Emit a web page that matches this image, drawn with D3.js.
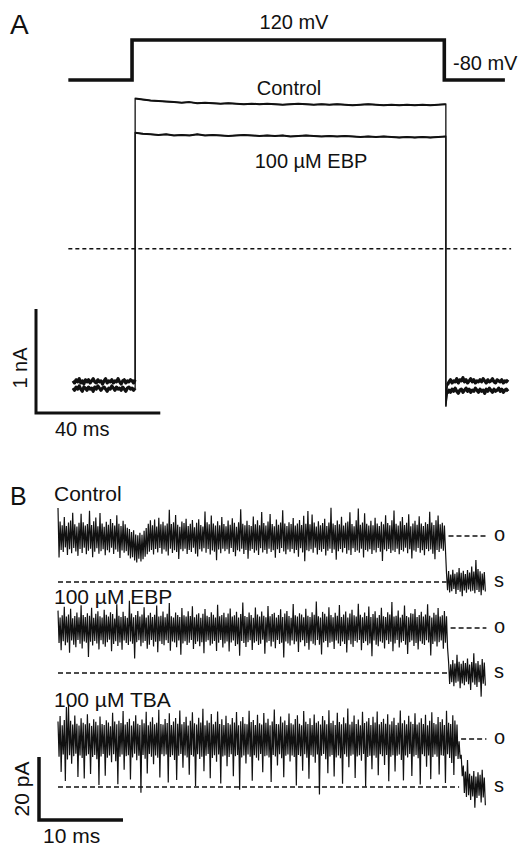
<!DOCTYPE html>
<html>
<head>
<meta charset="utf-8">
<script src="https://cdn.jsdelivr.net/npm/d3@7"></script>
<style>
  html, body { margin: 0; padding: 0; background: #fff; }
  svg { display: block; }
</style>
</head>
<body>
<svg id="fig" width="526" height="846"></svg>
<script>
// ---------------- Panel A: macroscopic currents ----------------
// Voltage protocol (ms, mV)
const stepTimes = [-21.5, -1, -1, 99.5, 99.5, 119];
const stepVolts = [-80, -80, 120, 120, -80, -80];
const holdingLabel = "-80 mV";
const stepLabel = "120 mV";

// Current (nA) at the holding potential before the step, -20..0 ms
const controlPre = [0.04, 0.02, 0.05, 0.03, 0.06, 0.02, 0.04, 0.01, 0.05, 0.03, 0.05, 0.02, 0.04, 0.06, 0.03, 0.02, 0.05, 0.03, 0.04, 0.01, 0.04, 0.06, 0.02, 0.04, 0.03, 0.05, 0.02, 0.04, 0.03, 0.06, 0.03, 0.01, 0.04, 0.05, 0.02, 0.04, 0.03, 0.05, 0.04, 0.02, 0.05];
const ebpPre = [-0.03, -0.05, -0.02, -0.04, -0.01, -0.04, -0.06, -0.02, -0.03, -0.05, -0.02, -0.04, -0.03, -0.06, -0.02, -0.04, -0.01, -0.03, -0.05, -0.03, -0.02, -0.04, -0.06, -0.03, -0.04, -0.01, -0.03, -0.05, -0.02, -0.04, -0.03, -0.05, -0.02, -0.04, -0.06, -0.03, -0.02, -0.04, -0.03, -0.05, -0.03];

// Current (nA) during the 120 mV step, 0..100 ms
const controlStep = [2.755, 2.745, 2.735, 2.73, 2.725, 2.72, 2.715, 2.72, 2.71, 2.715, 2.71, 2.705, 2.71, 2.705, 2.70, 2.705, 2.70, 2.705, 2.70, 2.695, 2.70, 2.705, 2.70, 2.695, 2.70, 2.695, 2.70, 2.695, 2.69, 2.695, 2.70, 2.695, 2.69, 2.695, 2.69, 2.695, 2.69, 2.695, 2.69, 2.695, 2.70];
const ebpStep = [2.425, 2.415, 2.41, 2.405, 2.41, 2.40, 2.405, 2.40, 2.41, 2.40, 2.405, 2.40, 2.395, 2.40, 2.405, 2.40, 2.395, 2.40, 2.395, 2.40, 2.39, 2.395, 2.40, 2.395, 2.39, 2.395, 2.39, 2.395, 2.39, 2.385, 2.39, 2.385, 2.39, 2.385, 2.38, 2.385, 2.38, 2.385, 2.38, 2.385, 2.39];

// Current (nA) after returning to -80 mV, 100..120 ms
const controlPost = [-0.21, 0.0, 0.03, 0.05, 0.02, 0.04, 0.03, 0.06, 0.02, 0.05, 0.04, 0.07, 0.03, 0.05, 0.02, 0.04, 0.06, 0.03, 0.05, 0.02, 0.04, 0.03, 0.05, 0.03, 0.06, 0.04, 0.02, 0.05, 0.03, 0.04, 0.06, 0.03, 0.02, 0.05, 0.04, 0.03, 0.05, 0.02, 0.04, 0.03, 0.05];
const ebpPost = [-0.20, -0.08, -0.05, -0.07, -0.04, -0.06, -0.03, -0.06, -0.08, -0.05, -0.04, -0.07, -0.05, -0.03, -0.06, -0.04, -0.07, -0.05, -0.06, -0.03, -0.05, -0.07, -0.04, -0.06, -0.05, -0.08, -0.04, -0.06, -0.03, -0.05, -0.07, -0.04, -0.06, -0.05, -0.03, -0.06, -0.04, -0.07, -0.05, -0.04, -0.06];

const referenceLevelA = 1.31;   // nA, dashed line
const traceLabelsA = ["Control", "100 \u00B5M EBP"];
const scaleBarA = { current: 1, time: 40, currentLabel: "1 nA", timeLabel: "40 ms" };

// ---------------- Panel B: single-channel currents at 120 mV ----------------
// Each record is stored as its excursion envelope (highest / lowest current, pA)
// within consecutive 0.25 ms bins, relative to the shut level.
const binWidthB = 0.25;  // ms
const traceLabelsB = ["Control", "100 \u00B5M EBP", "100 \u00B5M TBA"];
const openLevels = [14.6, 14.3, 15.2];   // pA, "o"
const levelLabels = ["o", "s"];

const controlOpenHigh = [
  23.5, 19.2, 18.0, 20.6, 17.8, 18.9, 19.5, 22.0, 18.3, 17.6,
  18.8, 21.7, 19.0, 17.9, 18.4, 22.6, 18.1, 19.3, 20.5, 17.7,
  21.9, 18.6, 17.5, 19.1, 18.2, 20.0, 18.7, 17.9, 21.2, 18.5,
  17.8, 19.4, 18.3, 17.2, 16.8, 15.9, 16.4, 15.1, 14.8, 15.6,
  15.0, 16.3, 17.1, 18.5, 19.6, 18.0, 19.8, 17.6, 20.4, 18.3,
  19.1, 17.9, 18.6, 22.9, 18.4, 19.0, 21.3, 18.2, 17.5, 19.2,
  18.7, 20.1, 17.8, 18.5, 19.7, 17.4, 18.8, 19.9, 18.1, 17.6,
  22.4, 19.0, 18.3, 21.1, 18.6, 17.9, 19.3, 18.0, 20.6, 18.4,
  17.7, 19.5, 18.2, 20.2, 18.8, 17.5, 19.0, 23.1, 18.5, 18.0,
  19.4, 18.1, 17.8, 20.8, 18.3, 19.6, 18.0, 22.2, 18.7, 17.9,
  19.2, 21.6, 18.4, 17.7, 19.8, 18.2, 18.9, 22.8, 18.6, 17.8,
  19.0, 18.4, 20.3, 17.9, 18.6, 19.7, 18.1, 21.0, 18.5, 22.5,
  18.3, 21.4, 18.9, 17.6, 19.3, 18.0, 18.7, 20.1, 17.8, 18.9,
  23.6, 18.6, 18.1, 19.5, 18.3, 20.7, 17.9, 18.8, 19.2, 22.1,
  18.4, 17.7, 19.6, 23.3, 18.2, 18.9, 21.8, 18.5, 17.9, 19.4,
  18.0, 20.4, 18.6, 17.8, 19.1, 18.3, 21.2, 18.7, 18.0, 19.6,
  22.7, 18.5, 17.9, 19.3, 20.6, 18.1, 18.8, 21.5, 17.7, 18.6,
  19.4, 18.2, 20.9, 18.6, 17.8, 19.0, 18.4, 22.3, 18.9, 18.1,
  19.6, 21.1, 18.3, 18.8, 17.9
];
const controlOpenLow = [
  7.8, 10.2, 9.5, 11.0, 8.6, 10.4, 9.1, 10.8, 9.7, 8.3,
  10.5, 9.2, 10.9, 8.8, 9.9, 10.6, 7.9, 9.6, 10.7, 9.0,
  9.8, 10.4, 8.5, 10.1, 9.4, 10.9, 8.9, 10.3, 9.6, 7.6,
  10.0, 9.3, 9.8, 8.4, 7.5, 7.9, 6.8, 6.2, 7.4, 6.5,
  7.2, 8.0, 8.8, 9.6, 10.2, 8.7, 10.5, 9.4, 10.8, 9.0,
  10.3, 9.7, 8.4, 10.6, 9.2, 10.1, 9.5, 7.3, 10.4, 9.8,
  10.6, 8.9, 10.2, 9.5, 10.9, 9.0, 8.1, 10.4, 9.7, 10.7,
  9.3, 10.5, 8.7, 10.0, 9.6, 6.9, 10.3, 9.1, 10.6, 9.8,
  10.4, 9.0, 10.8, 9.5, 8.2, 10.1, 9.7, 10.6, 8.9, 10.2,
  7.4, 9.9, 10.5, 9.3, 10.0, 8.6, 10.7, 9.4, 10.2, 9.0,
  10.6, 9.5, 10.1, 7.7, 10.4, 9.2, 10.8, 9.7, 8.8, 10.3,
  9.6, 10.5, 9.1, 10.2, 8.0, 10.7, 9.4, 6.6, 10.1, 9.8,
  10.4, 9.3, 10.9, 8.7, 10.2, 9.6, 10.5, 8.4, 9.9, 10.6,
  9.2, 10.3, 7.1, 9.8, 10.5, 9.4, 10.8, 9.0, 10.1, 8.6,
  10.7, 9.5, 10.0, 9.3, 10.6, 7.8, 10.2, 9.7, 10.4, 8.9,
  10.1, 9.4, 10.8, 9.6, 6.7, 10.3, 9.8, 10.5, 9.2, 10.0,
  9.5, 10.6, 8.8, 10.2, 9.7, 10.9, 9.1, 10.4, 7.5, 10.0,
  9.6, 10.8, 9.3, 10.1, 8.5, 10.5, 9.8, 10.3, 9.0, 7.2,
  10.2, 9.5, 10.6, 9.9, 10.3
];
const controlShutHigh = [2.8, 3.5, 2.4, 3.9, 2.6, 3.1, 4.4, 2.9, 3.6, 2.5, 3.8, 3.0, 4.9, 3.3, 7.0, 4.1, 3.4, 2.7, 3.2];
const controlShutLow = [-2.6, -3.3, -2.9, -2.2, -3.8, -2.5, -3.1, -4.5, -2.7, -3.4, -2.4, -3.0, -2.8, -3.6, -2.5, -3.2, -4.2, -2.6, -3.0];

const ebpOpenHigh = [
  19.8, 17.6, 18.3, 21.0, 17.9, 18.6, 20.4, 17.4, 18.1, 19.2,
  17.7, 21.5, 18.4, 17.8, 19.0, 18.2, 20.7, 17.5, 18.8, 19.6,
  18.0, 17.6, 20.1, 18.5, 17.9, 19.3, 18.7, 17.3, 21.8, 18.2,
  17.8, 19.4, 18.1, 17.5, 22.9, 18.9, 17.7, 18.4, 19.7, 17.9,
  18.6, 20.9, 17.6, 18.3, 19.1, 17.8, 18.5, 21.4, 17.9, 18.2,
  19.5, 17.7, 18.8, 22.2, 18.0, 17.6, 19.2, 18.4, 17.8, 20.6,
  18.3, 17.9, 19.6, 18.1, 21.2, 17.7, 18.6, 19.0, 17.5, 18.8,
  20.3, 18.2, 17.8, 19.3, 18.5, 17.6, 21.7, 18.0, 18.4, 19.1,
  17.7, 18.9, 20.5, 17.9, 18.3, 19.4, 17.6, 18.7, 22.4, 18.1,
  17.8, 19.2, 18.4, 17.5, 20.8, 18.6, 17.9, 19.5, 18.2, 17.7,
  21.3, 18.0, 18.7, 19.1, 17.6, 18.4, 20.2, 17.8, 18.9, 19.7,
  18.1, 17.5, 21.9, 18.3, 17.9, 19.0, 18.6, 17.7, 20.4, 18.2,
  17.8, 19.3, 18.5, 22.7, 18.0, 17.6, 19.4, 18.8, 17.9, 20.9,
  18.4, 17.7, 19.1, 18.2, 21.6, 17.8, 18.6, 19.5, 17.6, 18.9,
  20.1, 18.3, 17.9, 22.0, 18.5, 17.7, 19.2, 18.1, 21.1, 17.8,
  18.7, 19.6, 17.5, 18.4, 20.7, 18.0, 17.8, 19.3, 18.6, 22.5,
  17.9, 18.2, 19.8, 17.6, 18.5, 21.4, 18.1, 17.7, 19.0, 18.8,
  20.3, 17.8, 18.4, 19.4, 17.9, 18.6, 21.8, 18.2, 17.6, 19.1,
  18.5, 20.6, 17.9, 18.3, 19.7, 18.0
];
const ebpOpenLow = [
  9.5, 7.2, 10.1, 8.8, 9.7, 6.4, 10.3, 9.0, 8.2, 10.5,
  9.3, 7.8, 10.0, 9.6, 5.1, 9.9, 8.7, 10.2, 9.4, 7.5,
  10.4, 9.1, 8.3, 9.8, 10.6, 6.9, 9.2, 10.1, 8.6, 9.7,
  7.4, 10.3, 9.5, 8.9, 10.0, 9.3, 4.6, 9.8, 10.4, 8.5,
  9.6, 10.2, 7.7, 9.0, 10.5, 8.4, 9.9, 6.6, 10.1, 9.2,
  8.8, 10.4, 9.5, 7.1, 10.0, 9.7, 8.2, 10.3, 5.8, 9.4,
  10.1, 8.9, 9.6, 10.5, 7.6, 9.2, 10.0, 8.5, 9.8, 6.3,
  9.9, 10.4, 8.7, 9.3, 10.2, 7.0, 9.6, 10.5, 8.1, 9.4,
  10.0, 6.8, 9.7, 10.3, 8.6, 9.1, 5.5, 10.2, 9.5, 8.3,
  9.8, 10.4, 7.3, 9.6, 10.1, 8.9, 9.3, 10.6, 6.1, 9.7,
  10.2, 8.4, 9.9, 7.9, 10.5, 9.2, 9.6, 4.9, 10.0, 9.4,
  8.7, 10.3, 9.1, 10.0, 6.7, 9.8, 10.4, 8.5, 9.5, 7.4,
  10.1, 9.3, 8.8, 10.5, 9.0, 5.9, 9.7, 10.2, 8.2, 9.6,
  9.9, 7.6, 10.3, 9.4, 8.6, 10.0, 9.2, 6.5, 10.4, 9.1,
  8.3, 10.2, 9.7, 10.5, 7.2, 9.5, 10.1, 8.8, 9.4, 5.3,
  10.3, 9.0, 8.5, 10.0, 9.6, 7.8, 10.4, 9.2, 9.9, 6.9,
  9.4, 10.5, 8.1, 9.7, 10.2, 9.0, 6.0, 9.8, 10.3, 8.6,
  9.5, 7.5, 10.1, 9.3, 8.9, 10.4, 9.7, 5.6, 9.2, 10.0,
  8.4, 9.8, 10.3, 7.7, 9.6, 8.0
];
const ebpShutHigh = [3.4, 2.8, 4.1, 3.0, 5.8, 3.6, 2.9, 3.9, 3.2, 4.6, 2.7, 3.5, 6.3, 3.1, 3.8, 2.6, 4.4, 3.3];
const ebpShutLow = [-3.5, -2.9, -4.2, -3.1, -2.7, -4.8, -3.3, -3.9, -2.8, -3.6, -5.4, -3.0, -3.7, -4.4, -2.9, -7.5, -3.4, -4.0];

const tbaOpenHigh = [
  20.8, 22.5, 19.6, 21.3, 25.4, 26.2, 21.0, 19.8, 22.7, 20.1,
  19.5, 21.8, 20.4, 19.9, 23.1, 20.2, 19.4, 21.5, 20.7, 19.6,
  22.4, 20.0, 19.7, 21.2, 20.5, 19.3, 23.6, 20.8, 19.9, 21.0,
  20.3, 24.1, 19.8, 20.6, 21.7, 19.5, 20.9, 22.8, 20.1, 19.7,
  21.4, 20.2, 23.9, 19.6, 20.7, 22.1, 19.9, 20.4, 24.5, 20.0,
  19.8, 21.6, 20.3, 23.4, 19.7, 20.8, 21.9, 20.1, 24.3, 19.9,
  20.6, 22.3, 19.5, 21.0, 23.7, 20.2, 19.8, 22.0, 20.5, 24.8,
  19.6, 21.1, 20.4, 23.2, 19.9, 20.7, 24.0, 20.0, 21.5, 19.7,
  22.6, 20.3, 19.8, 21.9, 20.5, 23.8, 19.6, 20.9, 22.2, 20.1,
  19.9, 24.2, 20.6, 21.3, 19.7, 22.9, 20.2, 19.8, 23.5, 20.4,
  21.7, 19.6, 20.8, 24.6, 20.0, 19.9, 22.4, 20.5, 21.1, 19.7,
  23.3, 20.2, 19.8, 21.6, 22.8, 20.1, 19.6, 24.1, 20.7, 20.0,
  21.8, 19.7, 23.0, 20.4, 20.9, 19.8, 22.5, 21.2, 19.9, 24.4,
  20.3, 21.0, 19.7, 23.6, 20.6, 19.9, 22.1, 20.2, 24.9, 19.8,
  20.7, 22.7, 20.0, 21.4, 19.6, 23.9, 20.3, 20.8, 21.9, 19.7,
  22.3, 20.5, 24.0, 19.9, 20.6, 21.7, 20.1, 23.1, 19.8, 20.9,
  22.0, 19.7, 20.4, 24.3, 20.2, 21.2, 19.9, 22.6, 20.7, 20.0,
  23.4, 19.8, 20.5, 21.8, 20.0, 22.9, 19.6, 21.0, 23.7, 20.3,
  19.9, 22.2, 20.6, 21.5, 19.7, 24.2, 20.4, 20.0, 22.8, 21.1,
  19.8
];
const tbaOpenLow = [
  9.6, 4.8, 10.3, 1.9, 8.7, 10.1, 7.4, 9.8, 10.6, 3.2,
  10.0, 9.2, 2.7, 9.9, 10.4, 4.1, 9.5, 10.2, 8.8, 0.6,
  9.7, 10.5, 3.6, 9.3, 10.0, 7.9, 10.4, 8.2, 0.9, 9.6,
  10.3, 5.5, 9.8, 10.1, 2.4, 9.4, 10.6, 8.5, 9.9, -1.8,
  10.2, 9.0, 4.3, 10.5, 9.6, 7.2, 10.0, 9.3, 3.0, 10.4,
  9.8, 10.3, 1.4, 9.5, 10.1, 8.6, 2.2, 9.9, 10.5, 6.1,
  10.0, 9.4, 3.9, 10.2, 9.7, 0.3, 10.4, 8.9, 9.6, 5.0,
  9.9, 10.5, 2.8, 9.2, 10.1, 8.0, 10.3, 1.1, 9.7, 10.0,
  6.6, 9.5, 10.4, 3.4, 9.8, 10.2, -0.9, 9.4, 10.0, 7.5,
  10.3, 9.6, 2.0, 10.1, 9.3, 8.4, 10.5, 4.7, 9.8, 10.0,
  9.4, 1.6, 10.2, 9.7, 6.8, 10.4, 9.1, 3.1, 9.9, 10.3,
  8.1, 10.0, 9.5, 0.5, 10.2, 9.8, 5.2, 10.4, 9.3, 2.6,
  10.1, 9.6, 7.7, 10.3, -2.4, 9.9, 10.5, 8.8, 4.4, 9.7,
  10.2, 3.3, 9.4, 10.0, 9.1, 1.0, 10.4, 9.6, 6.3, 9.9,
  10.3, 2.9, 9.7, 10.1, 8.3, 10.5, 0.2, 9.5, 9.9, 5.6,
  10.0, 9.3, 3.7, 10.4, 9.8, 7.0, 10.2, 1.8, 9.6, 10.1,
  4.9, 9.9, 10.3, 8.6, 2.1, 10.0, 9.4, 10.5, 3.5, 9.7,
  10.2, 9.1, 0.8, 10.4, 9.8, 6.4, 10.0, 2.5, 9.5, 10.3,
  9.6, 4.0, 10.1, 9.9, 1.3, 10.4, 9.2, 7.6, 3.8, 9.8,
  8.9
];
const tbaShutHigh = [14.5, 10.2, 6.8, 4.9, 8.6, 4.2, 3.6, 5.1, 3.3, 4.7, 3.9, 5.5, 3.0];
const tbaShutLow = [9.0, 3.4, -1.9, -3.2, -2.6, -4.1, -3.0, -6.6, -3.5, -2.8, -4.9, -3.3, -5.8];

const scaleBarB = { current: 20, time: 10, currentLabel: "20 pA", timeLabel: "10 ms" };

// ---------------- Drawing ----------------
const svg = d3.select("#fig");
const ink = "#111";
const font = "'Liberation Sans', Arial, Helvetica, sans-serif";

svg.append("rect").attr("width", 526).attr("height", 846).attr("fill", "#fff");

function label(x, y, str, size, anchor, extra) {
  const t = svg.append("text")
    .attr("x", x).attr("y", y)
    .attr("font-family", font)
    .attr("font-size", size)
    .attr("fill", ink)
    .attr("text-anchor", anchor || "start")
    .text(str);
  if (extra) extra(t);
  return t;
}

// Panel letters
label(10, 34, "A", 28);
label(10, 505, "B", 25);

// ----- Panel A -----
const xA = d3.scaleLinear().domain([-20, 120]).range([73, 508]);
const yA = d3.scaleLinear().domain([0, 1]).range([385, 281]);
const yV = d3.scaleLinear().domain([-80, 120]).range([80, 40]);

const lineV = d3.line().x(d => xA(d[0])).y(d => yV(d[1]));
svg.append("path")
  .attr("d", lineV(d3.zip(stepTimes, stepVolts)))
  .attr("fill", "none").attr("stroke", ink)
  .attr("stroke-width", 3.6).attr("stroke-linejoin", "miter");

label(294, 29, stepLabel, 20, "middle");
label(453, 70, holdingLabel, 20);

const lineA = d3.line().x(d => xA(d[0])).y(d => yA(d[1]));
const spread = (vals, t0, t1) => vals.map((v, i) => [t0 + (t1 - t0) * i / (vals.length - 1), v]);

function drawCurrent(pre, step, post) {
  const a = spread(pre, -20, 0), b = spread(step, 0, 100), c = spread(post, 100, 120);
  // whole sweep, thin (sharp on/off edges)
  svg.append("path").attr("d", lineA(a.concat(b, c)))
    .attr("fill", "none").attr("stroke", ink).attr("stroke-width", 1.3);
  // heavier segments
  svg.append("path").attr("d", lineA(a))
    .attr("fill", "none").attr("stroke", ink).attr("stroke-width", 3.2).attr("stroke-linejoin", "round");
  svg.append("path").attr("d", lineA(b))
    .attr("fill", "none").attr("stroke", ink).attr("stroke-width", 2).attr("stroke-linejoin", "round");
  svg.append("path").attr("d", lineA(c.slice(1)))
    .attr("fill", "none").attr("stroke", ink).attr("stroke-width", 3.2).attr("stroke-linejoin", "round");
}
drawCurrent(controlPre, controlStep, controlPost);
drawCurrent(ebpPre, ebpStep, ebpPost);

label(289, 95, traceLabelsA[0], 20, "middle");
label(311, 168, traceLabelsA[1], 20, "middle");

// dashed reference level
svg.append("line")
  .attr("x1", xA(-21.5)).attr("x2", xA(121))
  .attr("y1", yA(referenceLevelA)).attr("y2", yA(referenceLevelA))
  .attr("stroke", ink).attr("stroke-width", 1.4).attr("stroke-dasharray", "4,3");

// scale bar A
{
  const ox = 36, oy = 413;
  const h = yA(0) - yA(scaleBarA.current);
  const w = xA(scaleBarA.time) - xA(0);
  svg.append("path")
    .attr("d", `M${ox},${oy - h}V${oy}H${ox + w}`)
    .attr("fill", "none").attr("stroke", ink).attr("stroke-width", 3).attr("stroke-linejoin", "miter");
  label(0, 0, scaleBarA.currentLabel, 20, "middle", t => t.attr("transform", `translate(27,368) rotate(-90)`));
  label(55, 436, scaleBarA.timeLabel, 20);
}

// ----- Panel B -----
const xB = d3.scaleLinear().domain([0, 10]).range([58, 142]);
const rowShutY = [582, 673, 787];
const labelY = [501, 604, 707];
const rows = [
  { openHi: controlOpenHigh, openLo: controlOpenLow, shutHi: controlShutHigh, shutLo: controlShutLow },
  { openHi: ebpOpenHigh, openLo: ebpOpenLow, shutHi: ebpShutHigh, shutLo: ebpShutLow },
  { openHi: tbaOpenHigh, openLo: tbaOpenLow, shutHi: tbaShutHigh, shutLo: tbaShutLow }
];

// zig-zag through each bin's high then low excursion
function envelopePoints(hi, lo, t0, dt) {
  const pts = [];
  d3.zip(hi, lo).forEach(([h, l], i) => {
    pts.push([t0 + i * dt, h]);
    pts.push([t0 + (i + 0.5) * dt, l]);
  });
  return pts;
}

rows.forEach((r, k) => {
  const yB = d3.scaleLinear().domain([0, 20]).range([rowShutY[k], rowShutY[k] - 63]);
  const dt = binWidthB;
  const nOpen = Math.min(r.openHi.length, r.openLo.length);
  const nShut = Math.min(r.shutHi.length, r.shutLo.length);
  const tOpenEnd = nOpen * dt;
  const tEnd = tOpenEnd + nShut * dt;
  const pts = envelopePoints(r.openHi, r.openLo, 0, dt)
    .concat(envelopePoints(r.shutHi, r.shutLo, tOpenEnd, dt));

  // dashed levels
  svg.append("line")
    .attr("x1", xB(0)).attr("x2", xB(tOpenEnd))
    .attr("y1", yB(0)).attr("y2", yB(0))
    .attr("stroke", ink).attr("stroke-width", 1.5).attr("stroke-dasharray", "5,3");
  svg.append("line")
    .attr("x1", xB(tOpenEnd) + 2).attr("x2", xB(tEnd))
    .attr("y1", yB(openLevels[k])).attr("y2", yB(openLevels[k]))
    .attr("stroke", ink).attr("stroke-width", 1.5).attr("stroke-dasharray", "5,3");

  const lineB = d3.line().x(d => xB(d[0])).y(d => yB(d[1]));
  svg.append("path").attr("d", lineB(pts))
    .attr("fill", "none").attr("stroke", ink).attr("stroke-width", 1.2)
    .attr("stroke-linejoin", "bevel");

  label(494, yB(openLevels[k]) + 5, levelLabels[0], 20);
  label(494, yB(0) + 5, levelLabels[1], 20);
  label(54, labelY[k], traceLabelsB[k], 21);
});

// scale bar B
{
  const ox = 39, oy = 820;
  const yB = d3.scaleLinear().domain([0, 20]).range([0, -63]);
  const h = -yB(scaleBarB.current);
  const w = xB(scaleBarB.time) - xB(0);
  svg.append("path")
    .attr("d", `M${ox},${oy - h}V${oy}H${ox + w}`)
    .attr("fill", "none").attr("stroke", ink).attr("stroke-width", 3.5).attr("stroke-linejoin", "miter");
  label(0, 0, scaleBarB.currentLabel, 21, "middle", t => t.attr("transform", `translate(29,789) rotate(-90)`));
  label(43, 843, scaleBarB.timeLabel, 21);
}
</script>
</body>
</html>
